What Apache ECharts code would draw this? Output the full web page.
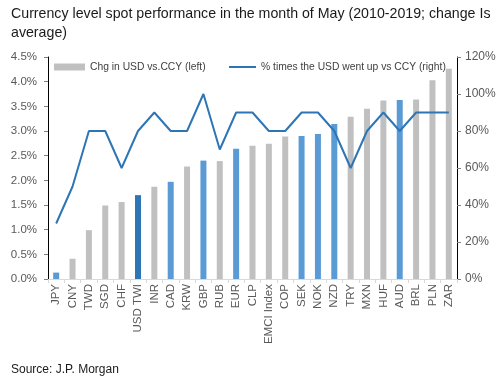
<!DOCTYPE html>
<html>
<head>
<meta charset="utf-8">
<script src="https://cdn.jsdelivr.net/npm/echarts@6/dist/echarts.min.js"></script>
<style>
  html, body { margin: 0; padding: 0; background: #fff; }
  #chart { width: 501px; height: 376px; }
</style>
</head>
<body>
<div id="chart"></div>
<script>
// ==================== DATA ====================
const currencies = ['JPY', 'CNY', 'TWD', 'SGD', 'CHF', 'USD TWI', 'INR', 'CAD', 'KRW', 'GBP', 'RUB', 'EUR', 'CLP',
  'EMCI Index', 'COP', 'SEK', 'NOK', 'NZD', 'TRY', 'MXN', 'HUF', 'AUD', 'BRL', 'PLN', 'ZAR'];
// avg % change in USD vs CCY (left axis)
const chgUsd = [0.13, 0.41, 0.99, 1.49, 1.56, 1.70, 1.87, 1.97, 2.28, 2.40, 2.39, 2.64, 2.70,
  2.74, 2.89, 2.90, 2.94, 3.14, 3.29, 3.45, 3.62, 3.63, 3.64, 4.03, 4.26];
// % of years the USD went up (right axis)
const pctUp = [30, 50, 80, 80, 60, 80, 90, 80, 80, 100, 70, 90, 90,
  80, 80, 90, 90, 80, 60, 80, 90, 80, 90, 90, 90];
const g10Ccys = ['JPY', 'CAD', 'GBP', 'EUR', 'SEK', 'NOK', 'NZD', 'AUD'];
const indexCcys = ['USD TWI'];
const leftTicks = ['0.0%', '0.5%', '1.0%', '1.5%', '2.0%', '2.5%', '3.0%', '3.5%', '4.0%', '4.5%'];
const rightTicks = ['0%', '20%', '40%', '60%', '80%', '100%', '120%'];

// ==================== CHART ====================
const chart = echarts.init(document.getElementById('chart'));
const font = 'Liberation Sans, Arial, sans-serif';
const axisC = '#595959', gray = '#c0c0c0', blue = '#5b9bd5', navy = '#2e75b6';
const legendText = { fontSize: 10.3, color: '#404040', fontFamily: font };

const barColor = name => indexCcys.includes(name) ? navy : (g10Ccys.includes(name) ? blue : gray);

chart.setOption({
  backgroundColor: '#fff',
  animation: false,
  textStyle: { fontFamily: font },
  title: [
    { text: 'Currency level spot performance in the month of May (2010-2019; change Is\naverage)',
      left: 6, top: 0, textStyle: { fontSize: 14.2, fontWeight: 'normal', color: '#1a1a1a', lineHeight: 19, fontFamily: font } },
    { text: 'Source: J.P. Morgan', left: 6, top: 359,
      textStyle: { fontSize: 12, fontWeight: 'normal', color: '#1a1a1a', fontFamily: font } }
  ],
  legend: [
    { data: [{ name: 'Chg in USD vs.CCY (left)', icon: 'rect', itemStyle: { color: gray } }],
      left: 49, top: 57, itemWidth: 31, itemHeight: 7, itemGap: 0, textStyle: legendText },
    { data: [{ name: '% times the USD went up vs CCY (right)', icon: 'rect', itemStyle: { color: navy } }],
      left: 224, top: 57, itemWidth: 27, itemHeight: 2, textStyle: legendText }
  ],
  grid: { left: 48, right: 44, top: 57, bottom: 97 },
  xAxis: {
    type: 'category', data: currencies,
    axisLine: { lineStyle: { color: '#d9d9d9' } },
    axisTick: { show: true, length: 4, lineStyle: { color: '#d9d9d9' } },
    axisLabel: { rotate: 90, interval: 0, fontSize: 11.5, color: axisC, margin: 5, fontFamily: font }
  },
  yAxis: [
    { type: 'value', min: 0, max: 4.5, interval: 0.5,
      axisLine: { show: true, lineStyle: { color: '#000' } },
      axisTick: { show: true, length: 4, lineStyle: { color: '#7f7f7f' } },
      splitLine: { show: false },
      axisLabel: { fontSize: 11.5, color: axisC, margin: 11, fontFamily: font,
        formatter: v => leftTicks[Math.round(v / 0.5)] } },
    { type: 'value', min: 0, max: 120, interval: 20, position: 'right',
      axisLine: { show: true, lineStyle: { color: '#000' } },
      axisTick: { show: true, length: 4, lineStyle: { color: '#7f7f7f' } },
      splitLine: { show: false },
      axisLabel: { fontSize: 12, color: axisC, margin: 8, fontFamily: font,
        formatter: v => rightTicks[Math.round(v / 20)] } }
  ],
  series: [
    { name: 'Chg in USD vs.CCY (left)', type: 'bar', yAxisIndex: 0, barWidth: 6,
      data: chgUsd.map((v, i) => ({ value: v, itemStyle: { color: barColor(currencies[i]) } })),
      itemStyle: { color: gray } },
    { name: '% times the USD went up vs CCY (right)', type: 'line', yAxisIndex: 1,
      data: pctUp, symbol: 'none', z: 5,
      lineStyle: { color: navy, width: 2 }, itemStyle: { color: navy } }
  ]
});
</script>
</body>
</html>
